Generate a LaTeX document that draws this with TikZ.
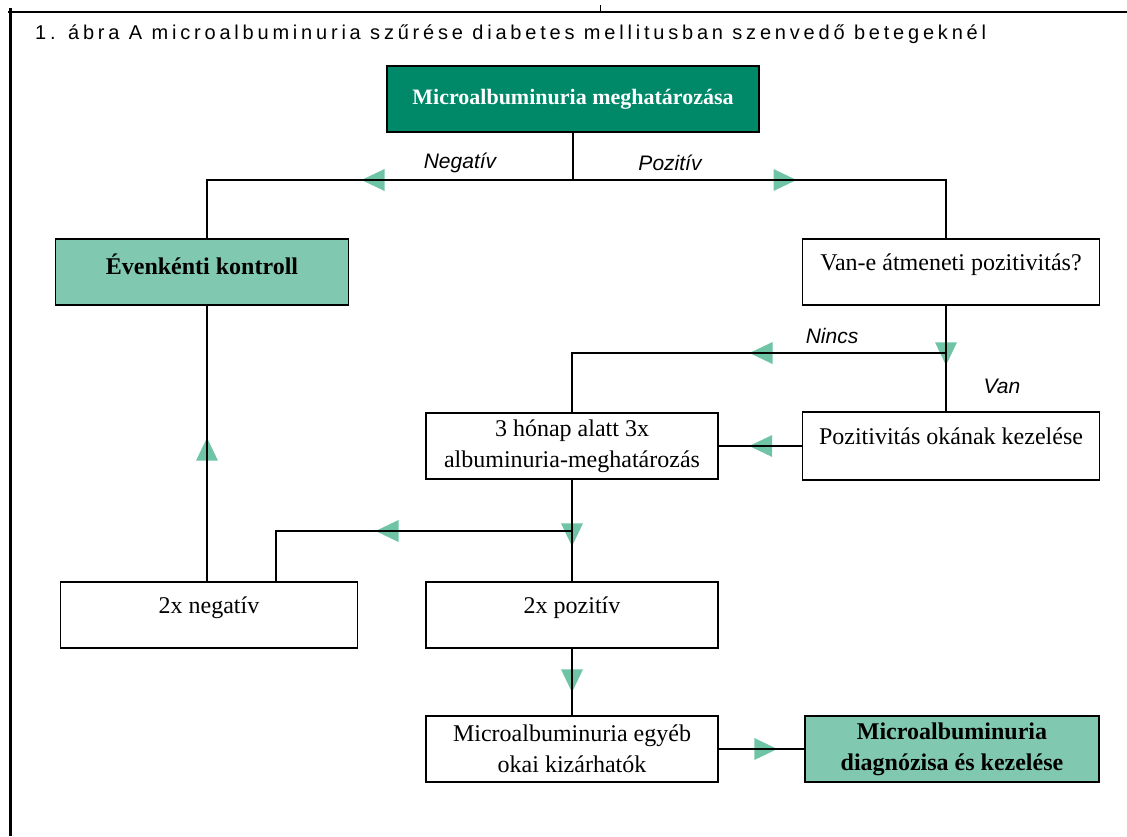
\documentclass[tikz,border=0pt]{standalone}
\usepackage{fontspec}
\setmainfont{Liberation Serif}
\newfontfamily\titlefont[LetterSpace=19]{Liberation Sans}
\newfontfamily\lblfont{Liberation Sans}
\usetikzlibrary{positioning}
\usetikzlibrary{calc}
\usetikzlibrary{decorations.markings}

\definecolor{darkgreen}{RGB}{0,137,105}
\definecolor{lightgreen}{RGB}{128,200,176}
\definecolor{tipgreen}{RGB}{112,196,166}

\tikzset{
  box/.style={draw, line width=1.6pt, inner sep=0pt, align=center,
    minimum width=293pt, minimum height=66pt,
    font=\fontsize{24}{31}\selectfont},
  oneline/.style={text height=16pt, text depth=20pt},
  lbl/.style={font=\lblfont\itshape\fontsize{21}{23}\selectfont},
  wire/.style={line width=1.2pt},
  flow/.style={preaction={decorate, decoration={markings,
    mark=at position #1 with {\fill[tipgreen] (11.5pt,0pt) -- (-11.5pt,11pt) -- (-11.5pt,-11pt) -- cycle;}}}}
}

\begin{document}
\begin{tikzpicture}[x=1pt,y=-1pt]
\useasboundingbox (0,0) rectangle (1127,836);
% frame and title
\draw [line width=2pt] (8,12) -- (1127,12);
\draw [line width=3pt] (10,8) -- (10,836);
\draw [line width=1pt] (600,5) -- (600,12);
\node [anchor=base west, inner sep=0pt, font=\titlefont\fontsize{20}{22}\selectfont] (title) at (35,39)
  {1. ábra A microalbuminuria szűrése diabetes mellitusban szenvedő betegeknél};

% boxes
\node [box, fill=darkgreen, text=white, minimum width=372pt, font=\bfseries\fontsize{22}{31}\selectfont] (meghat) at (573,99) {Microalbuminuria meghatározása};
\node [box, oneline, fill=lightgreen, font=\bfseries\fontsize{24}{31}\selectfont, text depth=11pt] (evenkenti) at (202,272) {Évenkénti kontroll};
\node [box, oneline, minimum width=297pt] (atmeneti) at (951,272) {Van-e átmeneti pozitivitás?};
\node [box, oneline, minimum width=297pt, minimum height=68pt] (okkezel) at (951,446) {Pozitivitás okának kezelése};
\node [box, minimum width=292pt] (harom) at (572,446) {3 hónap alatt 3x\\albuminuria-meghatározás};
\node [box, oneline, minimum width=297pt] (negativ) at (209,615) {2x negatív};
\node [box, oneline, minimum width=292pt] (pozitiv) at (572,615) {2x pozitív};
\node [box, minimum width=292pt] (egyeb) at (572,749) {Microalbuminuria egyéb\\okai kizárhatók};
\node [box, fill=lightgreen, minimum width=294pt, font=\bfseries\fontsize{24}{31}\selectfont] (diagn) at (952,749) {Microalbuminuria\\diagnózisa és kezelése};

% branch points
\coordinate (elagazas) at (meghat.south |- 0,180);
\coordinate (balag) at (207,180);
\coordinate (jobbag) at (946,180);
\coordinate (nincsag) at (946,353);
\coordinate (kettoag) at (572,531);
\coordinate (negag) at (276,531);

% connectors
\draw [wire] (meghat.south) -- (elagazas);
\draw [wire, flow=200pt] (elagazas) -- (balag) -- (balag |- evenkenti.north);
\draw [wire, flow=212pt] (elagazas) -- (jobbag) -- (jobbag |- atmeneti.north);
\draw [wire, flow=48pt] (jobbag |- atmeneti.south) -- (jobbag |- okkezel.north);
\draw [wire, flow=185pt] (nincsag) -- (nincsag -| harom.north) -- (harom.north);
\draw [wire, flow=41pt] (okkezel.west) -- (okkezel.west -| harom.east);
\draw [wire, flow=55pt] (harom.south) -- (pozitiv.north);
\draw [wire, flow=185pt] (kettoag) -- (negag) -- (negag |- negativ.north);
\draw [wire, flow=132pt] (balag |- negativ.north) -- (balag |- evenkenti.south);
\draw [wire, flow=32pt] (pozitiv.south) -- (egyeb.north);
\draw [wire, flow=47pt] (egyeb.east) -- (diagn.west);

% branch labels
\node [lbl] (neglbl) at (460,163) {Negatív};
\node [lbl] (pozlbl) at (670,163) {Pozitív};
\node [lbl] (nincslbl) at (832,336) {Nincs};
\node [lbl] (vanlbl) at (1002,386) {Van};
\end{tikzpicture}
\end{document}
